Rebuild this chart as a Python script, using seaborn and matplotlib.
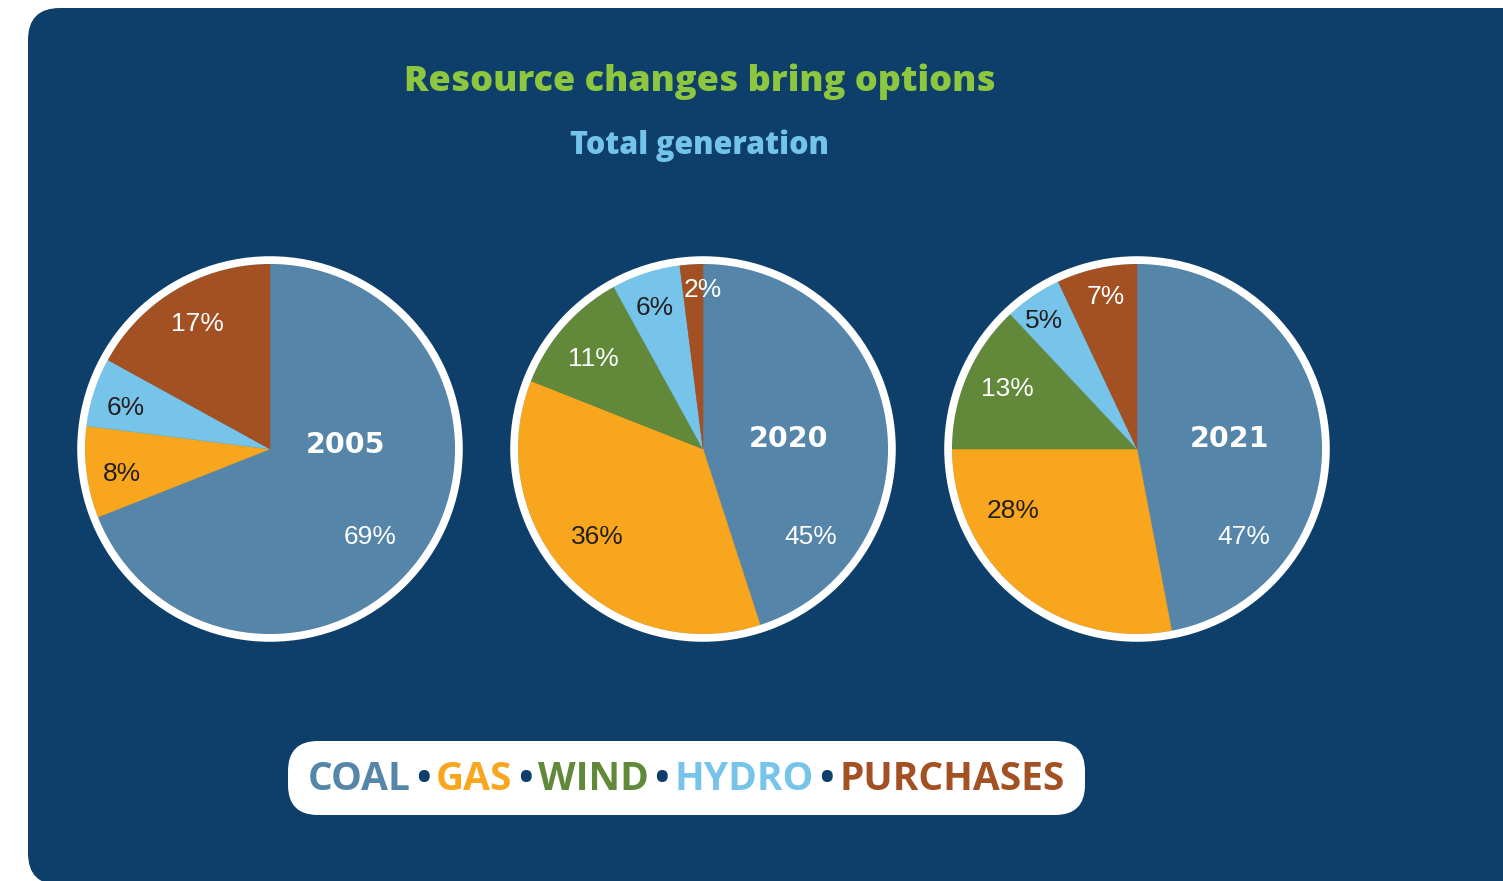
import matplotlib
matplotlib.use("Agg")
import matplotlib.pyplot as plt
from matplotlib.patches import FancyBboxPatch, Circle
import seaborn as sns

# =============================================================================
# DATA
# =============================================================================
years = ["2005", "2020", "2021"]
sources = ["COAL", "GAS", "WIND", "HYDRO", "PURCHASES"]
share_2005 = [69, 8, 0, 6, 17]
share_2020 = [45, 36, 11, 6, 2]
share_2021 = [47, 28, 13, 5, 7]
shares = [share_2005, share_2020, share_2021]

# =============================================================================
# STYLE / LAYOUT
# =============================================================================
NAVY = "#0D3F6A"
source_colors = ["#5585A8", "#F9A61F", "#62883A", "#77C4EA", "#A35023"]
label_colors = ["white", "#231F20", "white", "#231F20", "white"]

W, H = 1503, 881
R = 185                      # pie radius in px
pie_centers = [(270, 449), (703, 449), (1137, 449)]

# label spots per pie, in units of the radius (hand placed like the original)
pct_pos = [
    [(0.54, -0.46), (-0.80, -0.12), None, (-0.78, 0.24), (-0.39, 0.69)],
    [(0.58, -0.46), (-0.57, -0.46), (-0.59, 0.50), (-0.26, 0.78), (0.0, 0.876)],
    [(0.58, -0.46), (-0.67, -0.32), (-0.70, 0.34), (-0.50, 0.71), (-0.17, 0.84)],
]
year_pos = [(0.41, 0.036), (0.46, 0.07), (0.50, 0.07)]
nudge = -0.016               # text boxes sit a touch high with va="center"

sns.set_theme(style="white")
plt.rcParams["font.family"] = ["Liberation Sans", "DejaVu Sans"]

fig = plt.figure(figsize=(W / 100, H / 100), dpi=100)
fig.patch.set_facecolor("white")

# navy panel with rounded left corners (right/bottom run off the page)
panel = FancyBboxPatch((0.28, -0.04), 15.4, 8.77,
                       boxstyle="round,pad=0,rounding_size=0.32",
                       transform=fig.dpi_scale_trans, fc=NAVY, ec="none", zorder=-5)
fig.patches.append(panel)

fig.text(700 / W, 1 - 82 / H, "Resource changes bring options", ha="center", va="center",
         color="#8DC63F", fontsize=26, weight="heavy", family=["Open Sans", "DejaVu Sans"])
fig.text(700 / W, 1 - 146 / H, "Total generation", ha="center", va="center",
         color="#74C3EA", fontsize=22, weight="heavy", family=["Open Sans", "DejaVu Sans"])

# =============================================================================
# PIES
# =============================================================================
palette = sns.color_palette(source_colors)
for year, vals, (cx, cy), lpos, ypos in zip(years, shares, pie_centers, pct_pos, year_pos):
    ax = fig.add_axes([(cx - 1.1 * R) / W, 1 - (cy + 1.1 * R) / H, 2.2 * R / W, 2.2 * R / H])
    ax.set_zorder(2)
    ax.patch.set_visible(False)
    ax.pie(vals, colors=palette, startangle=90, counterclock=False, radius=1,
           wedgeprops=dict(linewidth=0.4))
    for w, c in zip(ax.patches, palette):
        w.set_edgecolor(c)
    ax.add_patch(Circle((0, 0), 1.021, fill=False, ec="white", lw=5.6))
    for v, p, tc in zip(vals, lpos, label_colors):
        if v == 0 or p is None:
            continue
        ax.text(p[0], p[1] + nudge, f"{v}%", ha="center", va="center", color=tc, fontsize=19)
    ax.text(ypos[0], ypos[1] + nudge, year, ha="center", va="center", color="white",
            fontsize=20.5, weight="bold", family="DejaVu Sans")
    ax.set_xlim(-1.1, 1.1)
    ax.set_ylim(-1.1, 1.1)
    ax.set_aspect("equal")
    ax.axis("off")

# =============================================================================
# LEGEND STRIP
# =============================================================================
box = FancyBboxPatch((2.88, (H - 815) / 100), 7.97, 0.74,
                     boxstyle="round,pad=0,rounding_size=0.3",
                     transform=fig.dpi_scale_trans, fc="white", ec="none", zorder=1)
fig.patches.append(box)

leg_font = dict(fontsize=28, weight="bold", family=["Open Sans", "DejaVu Sans"])
baseline = 1 - 790 / H
gap = 5.5
renderer = fig.canvas.get_renderer()
items = []
for i, (name, col) in enumerate(zip(sources, source_colors)):
    if i:
        items.append(fig.text(0, baseline, "•", color=NAVY, va="baseline", ha="left", **leg_font))
    items.append(fig.text(0, baseline, name, color=col, va="baseline", ha="left", **leg_font))
widths = [t.get_window_extent(renderer).width for t in items]
total = sum(widths) + gap * (len(items) - 1)
x = 686 - total / 2
for t, w in zip(items, widths):
    t.set_position((x / W, baseline))
    x += w + gap

plt.savefig("out.png", dpi=100, facecolor=fig.get_facecolor())
